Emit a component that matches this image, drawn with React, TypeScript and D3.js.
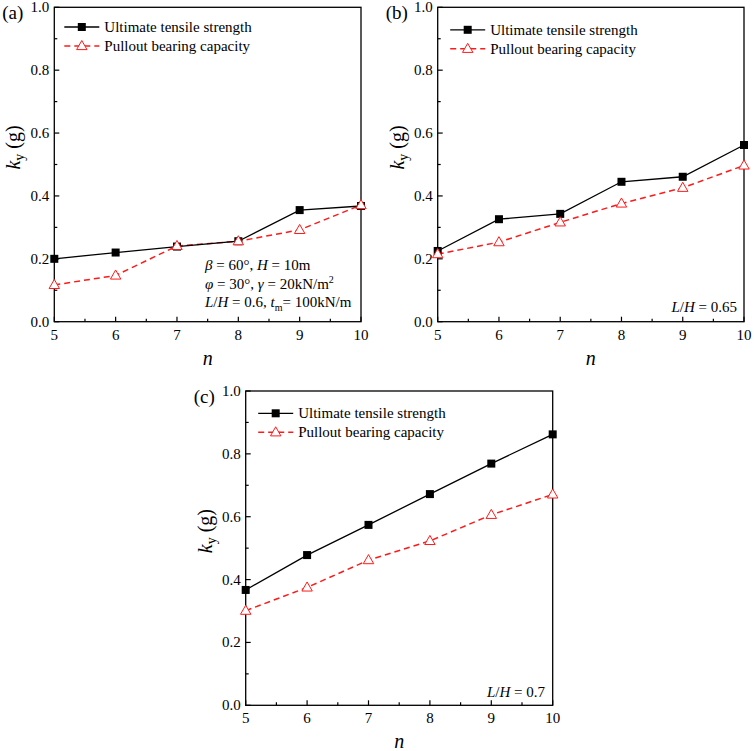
import React from "react";
import * as d3 from "d3";

const nValues = [5, 6, 7, 8, 9, 10];
const xMinorTicks = [5.5, 6.5, 7.5, 8.5, 9.5];
const yTicks = [0, 0.2, 0.4, 0.6, 0.8, 1.0];
const yMinorTicks = [0.1, 0.3, 0.5, 0.7, 0.9];
const seriesNames = ["Ultimate tensile strength", "Pullout bearing capacity"];

const ultimateA = [0.2, 0.22, 0.239, 0.256, 0.355, 0.368];
const pulloutA = [0.117, 0.147, 0.241, 0.256, 0.292, 0.371];
const ultimateB = [0.225, 0.326, 0.343, 0.445, 0.461, 0.562];
const pulloutB = [0.215, 0.253, 0.316, 0.376, 0.426, 0.497];
const ultimateC = [0.367, 0.478, 0.574, 0.672, 0.769, 0.862];
const pulloutC = [0.301, 0.375, 0.462, 0.523, 0.606, 0.671];

const FONT = "'Liberation Serif', 'Times New Roman', serif";
const RED = "#ff1a1a";

type PanelProps = {
  label: string;
  x0: number;
  x1: number;
  y0: number;
  y1: number;
  ult: number[];
  pull: number[];
  legDx: number;
  legDy: number;
  note: React.ReactNode;
};

function Triangle({ x, y }: { x: number; y: number }) {
  const p = `M${x},${y - 5.5}L${x + 5.2},${y + 3.6}L${x - 5.2},${y + 3.6}Z`;
  return <path d={p} fill="white" stroke={RED} strokeWidth={1} />;
}

function Square({ x, y }: { x: number; y: number }) {
  return <rect x={x - 4} y={y - 4} width={8} height={8} fill="black" />;
}

function Panel(props: PanelProps) {
  const { label, x0, x1, y0, y1, ult, pull, legDx, legDy, note } = props;
  const xs = d3.scaleLinear().domain([5, 10]).range([x0, x1]);
  const ys = d3.scaleLinear().domain([0, 1]).range([y1, y0]);
  const line = d3
    .line<number>()
    .x((_, i) => xs(nValues[i]))
    .y((d) => ys(d));
  const yCenter = (y0 + y1) / 2 - 17;
  const lx = x0 + legDx;
  const ly1 = y0 + legDy;
  const ly2 = ly1 + 19;
  return (
    <g fontFamily={FONT}>
      <rect x={x0} y={y0} width={x1 - x0} height={y1 - y0} fill="none" stroke="black" strokeWidth={1.3} />
      {nValues.map((v) => (
        <g key={"xt" + v}>
          <line x1={xs(v)} x2={xs(v)} y1={y1} y2={y1 - 5} stroke="black" strokeWidth={1.2} />
          <text x={xs(v)} y={y1 + 18} fontSize={15} textAnchor="middle">
            {v}
          </text>
        </g>
      ))}
      {xMinorTicks.map((v) => (
        <line key={"xm" + v} x1={xs(v)} x2={xs(v)} y1={y1} y2={y1 - 3} stroke="black" strokeWidth={1.2} />
      ))}
      {yTicks.map((v) => (
        <g key={"yt" + v}>
          <line x1={x0} x2={x0 + 5} y1={ys(v)} y2={ys(v)} stroke="black" strokeWidth={1.2} />
          <text x={x0 - 5} y={ys(v) + 5} fontSize={15} textAnchor="end">
            {d3.format(".1f")(v)}
          </text>
        </g>
      ))}
      {yMinorTicks.map((v) => (
        <line key={"ym" + v} x1={x0} x2={x0 + 3} y1={ys(v)} y2={ys(v)} stroke="black" strokeWidth={1.2} />
      ))}
      <text x={(x0 + x1) / 2} y={y1 + 43} fontSize={20} fontStyle="italic" textAnchor="middle">
        n
      </text>
      <text
        transform={`translate(${x0 - 40},${yCenter}) rotate(-90)`}
        fontSize={20}
        textAnchor="middle"
        dy={6}
      >
        <tspan fontStyle="italic">k</tspan>
        <tspan fontSize={14} dy={4}>y</tspan>
        <tspan dy={-4}> (g)</tspan>
      </text>
      <text x={x0 - 52} y={y0 + 12} fontSize={19}>
        {label}
      </text>
      <path d={line(pull) || ""} fill="none" stroke={RED} strokeWidth={1.5} strokeDasharray="6,4" />
      <path d={line(ult) || ""} fill="none" stroke="black" strokeWidth={1.3} />
      {ult.map((v, i) => (
        <Square key={"s" + i} x={xs(nValues[i])} y={ys(v)} />
      ))}
      {pull.map((v, i) => (
        <Triangle key={"t" + i} x={xs(nValues[i])} y={ys(v)} />
      ))}
      <line x1={lx} x2={lx + 35} y1={ly1} y2={ly1} stroke="black" strokeWidth={1.3} />
      <Square x={lx + 17.5} y={ly1} />
      <text x={lx + 40} y={ly1 + 5} fontSize={15}>
        {seriesNames[0]}
      </text>
      <line x1={lx} x2={lx + 35} y1={ly2} y2={ly2} stroke={RED} strokeWidth={1.5} strokeDasharray="6,4" />
      <Triangle x={lx + 17.5} y={ly2} />
      <text x={lx + 40} y={ly2 + 5} fontSize={15}>
        {seriesNames[1]}
      </text>
      {note}
    </g>
  );
}

export default function App() {
  const noteA = (
    <g fontSize={15}>
      <text x={205} y={270}>
        <tspan fontStyle="italic">β</tspan> = 60°, <tspan fontStyle="italic">H</tspan> = 10m
      </text>
      <text x={205} y={289}>
        <tspan fontStyle="italic">φ</tspan> = 30°, <tspan fontStyle="italic">γ</tspan> = 20kN/m
        <tspan fontSize={10} dy={-6}>2</tspan>
      </text>
      <text x={205} y={307}>
        <tspan fontStyle="italic">L</tspan>/<tspan fontStyle="italic">H</tspan> = 0.6,{" "}
        <tspan fontStyle="italic">t</tspan>
        <tspan fontSize={10} dy={4}>m</tspan>
        <tspan dy={-4}>= 100kN/m</tspan>
      </text>
    </g>
  );
  const noteB = (
    <text x={737} y={312} fontSize={15} textAnchor="end">
      <tspan fontStyle="italic">L</tspan>/<tspan fontStyle="italic">H</tspan> = 0.65
    </text>
  );
  const noteC = (
    <text x={545} y={697} fontSize={15} textAnchor="end">
      <tspan fontStyle="italic">L</tspan>/<tspan fontStyle="italic">H</tspan> = 0.7
    </text>
  );
  return (
    <svg
      width={754}
      height={751}
      style={{ position: "absolute", left: 0, top: 0, background: "white" }}
    >
      <rect x={0} y={0} width={754} height={751} fill="white" />
      <Panel label="(a)" x0={54.3} x1={361} y0={7.3} y1={321.7} ult={ultimateA} pull={pulloutA} legDx={10} legDy={19.7} note={noteA} />
      <Panel label="(b)" x0={437.7} x1={744} y0={7.3} y1={321.7} ult={ultimateB} pull={pulloutB} legDx={12.5} legDy={22.5} note={noteB} />
      <Panel label="(c)" x0={245.7} x1={552.7} y0={391} y1={705.3} ult={ultimateC} pull={pulloutC} legDx={12.5} legDy={22.3} note={noteC} />
    </svg>
  );
}
